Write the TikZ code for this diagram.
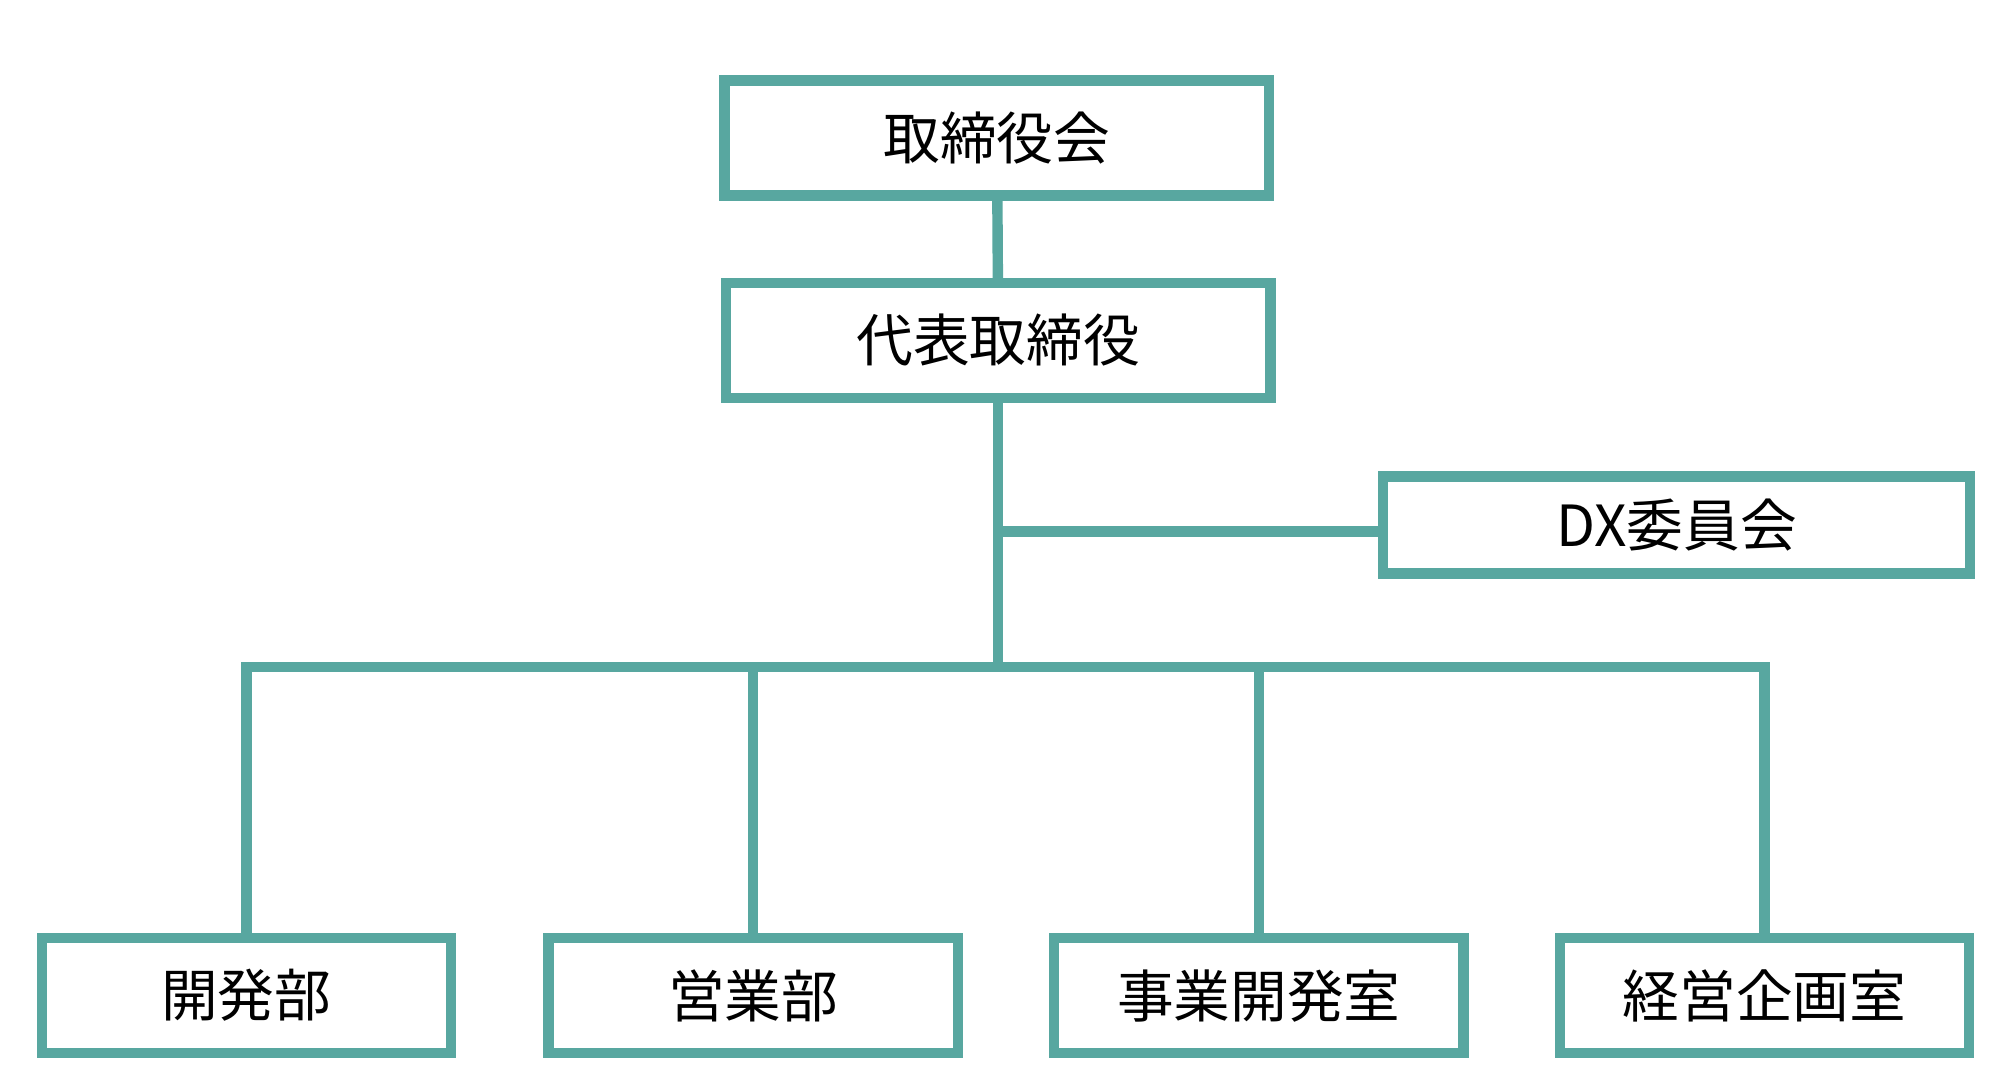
\documentclass[tikz,border=0pt]{standalone}
\usepackage{fontspec}
\setmainfont{Noto Sans CJK JP}
\definecolor{teal1}{RGB}{88,167,160}
\begin{document}
\begin{tikzpicture}[x=0.01cm,y=-0.01cm,
  box/.style={draw=teal1,line width=2.3pt,minimum height=0.89cm,inner sep=0pt,font=\fontsize{12.5}{14}\selectfont},
  conn/.style={draw=teal1,line width=2.3pt}]
\useasboundingbox (0,0) rectangle (1560,834);
\node[box,minimum width=4.22cm] (a) at (773,107) {取締役会};
\node[box,minimum width=4.22cm] (b) at (774,264) {代表取締役};
\node[box,minimum width=4.55cm,minimum height=0.75cm] (dx) at (1300,407) {DX委員会};
\node[box,minimum width=3.17cm] (d1) at (191,772) {開発部};
\node[box,minimum width=3.17cm] (d2) at (584,772) {営業部};
\node[box,minimum width=3.17cm] (d3) at (976,772) {事業開発室};
\node[box,minimum width=3.17cm] (d4) at (1368,772) {経営企画室};
\coordinate (bus) at (774,517);
\coordinate (j) at (774,412);
\draw[conn] (a) -- (b);
\draw[conn] (b) -- (bus);
\draw[conn] (j) -- (dx.west|-j);
\draw[conn] (d1) |- (bus) -| (d4);
\draw[conn] (d2) -- (d2|-bus);
\draw[conn] (d3) -- (d3|-bus);
\end{tikzpicture}
\end{document}
